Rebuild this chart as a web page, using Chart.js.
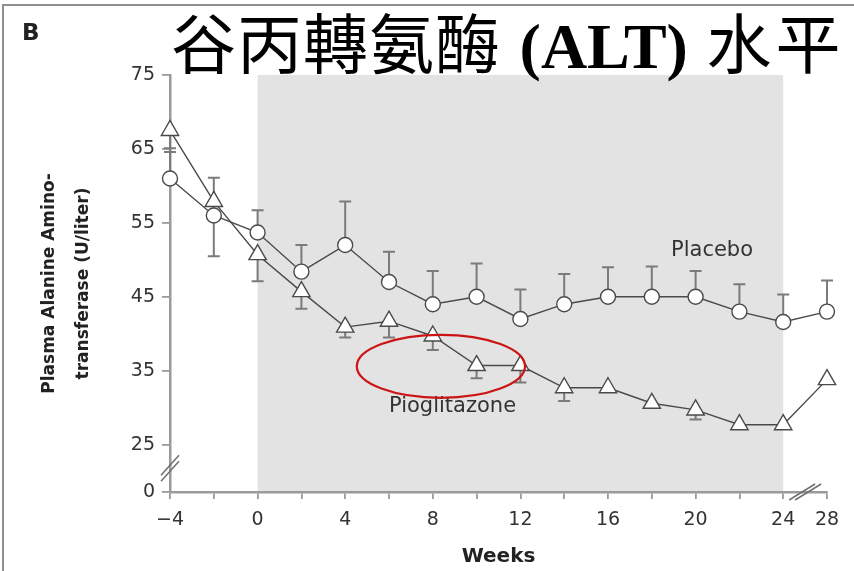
<!DOCTYPE html>
<html lang="zh-Hant">
<head>
<meta charset="utf-8">
<title>谷丙轉氨酶 (ALT) 水平</title>
<script src="https://cdn.jsdelivr.net/npm/chart.js@4.4.1/dist/chart.umd.min.js"></script>
<style>
  html, body { margin: 0; padding: 0; background: #fff; }
  #box { position: relative; width: 854px; height: 571px; overflow: hidden; }
  #box canvas { position: absolute; left: 0; top: 0; }
  .frame { position: absolute; left: 2px; top: 4px; width: 870px; height: 590px;
           border-left: 2px solid #8f8f8f; border-top: 2px solid #8f8f8f; }
  .panel { position: absolute; left: 22px; top: 19px; font: bold 23px "DejaVu Sans", sans-serif; color: #222; }
  .heading { position: absolute; left: 171px; top: 8px; margin: 0; white-space: nowrap; color: #000;
             font: 400 65px/64px "Noto Sans CJK TC", sans-serif; letter-spacing: 1px; word-spacing: 3px; }
  .heading b { font-family: "Liberation Serif", serif; font-weight: bold; font-size: 64px; letter-spacing: 0; }
  .heading .tail { letter-spacing: 4px; }
</style>
</head>
<body>
<div id="box">
  <canvas id="alt" width="854" height="571"></canvas>
  <div class="frame"></div>
  <div class="panel">B</div>
  <h1 class="heading">谷丙轉氨酶 <b>(ALT)</b> <span class="tail">水平</span></h1>
</div>
<script>
// study weeks; week 28 follows an axis break after week 24
const weeks = [-4, -2, 0, 2, 4, 6, 8, 10, 12, 14, 16, 18, 20, 22, 24, 28];

// mean plasma ALT (U/liter) with the visible end of each error bar
const placebo      = [61, 56, 53.7, 48.4, 52, 47, 44, 45, 42, 44, 45, 45, 45, 43, 41.6, 43];
const placeboUpper = [65.1, 61.1, 56.7, 52, 57.9, 51.1, 48.5, 49.5, 46, 48.1, 49, 49.1, 48.5, 46.7, 45.3, 47.2];
const placeboLower = [null, 50.5, null, null, null, null, null, null, null, null, null, null, null, null, null, null];

const pioglitazone      = [67.5, 57.9, 50.7, 45.7, 40.9, 41.7, 39.7, 35.7, 35.7, 32.7, 32.7, 30.6, 29.7, 27.7, 27.7, 33.8];
const pioglitazoneLower = [64.6, null, 47.1, 43.4, 39.5, 39.5, 37.8, 34, 33.4, 30.9, null, 30, 28.4, null, null, null];

// axis labels
const yTicks = [25, 35, 45, 55, 65, 75];
const yZeroLabel = '0';
const xLabelWeeks = [-4, 0, 4, 8, 12, 16, 20, 24, 28];

const family = '"DejaVu Sans", sans-serif';
const ink = '#4a4a4a';
const barInk = '#7b7b7b';
const axisInk = '#9a9a9a';

// fractional category position for any week
function weekPx(x, w) {
  for (let i = 0; i < weeks.length - 1; i++) {
    if (w <= weeks[i + 1]) {
      return x.getPixelForValue(i + (w - weeks[i]) / (weeks[i + 1] - weeks[i]));
    }
  }
  return x.getPixelForValue(weeks.length - 1);
}

const notes = [
  { text: 'Placebo', week: 20.75, level: 51.3 },
  { text: 'Pioglitazone', week: 8.9, level: 30.1 }
];
const ring = { week: 8.37, level: 35.6, halfWeeks: 3.84, halfLevels: 4.26 };

const extras = {
  id: 'extras',
  beforeDraw(chart) {
    const { ctx, chartArea, scales: { x } } = chart;
    // treatment period, week 0 to week 24
    const x0 = weekPx(x, 0), x1 = weekPx(x, 24);
    ctx.save();
    ctx.fillStyle = '#e3e3e3';
    ctx.fillRect(x0, chartArea.top, x1 - x0, chartArea.bottom - chartArea.top);
    ctx.restore();
  },
  beforeDatasetsDraw(chart) {
    const { ctx, scales: { x, y } } = chart;
    ctx.save();
    ctx.strokeStyle = barInk;
    ctx.lineWidth = 2;
    [[placebo, placeboUpper], [placebo, placeboLower], [pioglitazone, pioglitazoneLower]].forEach(([mid, end]) => {
      end.forEach((v, i) => {
        if (v === null) return;
        const px = x.getPixelForValue(i);
        const y0 = y.getPixelForValue(mid[i]);
        const y1 = y.getPixelForValue(v);
        ctx.beginPath();
        ctx.moveTo(px, y0);
        ctx.lineTo(px, y1);
        ctx.moveTo(px - 6, y1);
        ctx.lineTo(px + 6, y1);
        ctx.stroke();
      });
    });
    ctx.restore();
  },
  afterDatasetsDraw(chart) {
    const { ctx, chartArea, scales: { x, y } } = chart;
    ctx.save();

    // axis breaks
    ctx.strokeStyle = '#6f6f6f';
    ctx.lineWidth = 1.5;
    const by = (y.getPixelForValue(yTicks[0]) + chartArea.bottom) / 2;
    const bx = chartArea.left;
    [-3, 3].forEach(d => {
      ctx.beginPath();
      ctx.moveTo(bx - 9, by + d + 10);
      ctx.lineTo(bx + 9, by + d - 10);
      ctx.stroke();
    });
    const cx = x.getPixelForValue(weeks.length - 1.5);
    const cy = chartArea.bottom;
    [-3, 3].forEach(d => {
      ctx.beginPath();
      ctx.moveTo(cx + d - 13, cy + 8);
      ctx.lineTo(cx + d + 13, cy - 8);
      ctx.stroke();
    });

    // series names
    ctx.fillStyle = '#333';
    ctx.font = '21px ' + family;
    ctx.textAlign = 'center';
    ctx.textBaseline = 'middle';
    notes.forEach(n => ctx.fillText(n.text, weekPx(x, n.week), y.getPixelForValue(n.level)));

    // highlight ring around weeks 8-12
    const rx = weekPx(x, ring.week + ring.halfWeeks) - weekPx(x, ring.week);
    const ry = y.getPixelForValue(ring.level - ring.halfLevels) - y.getPixelForValue(ring.level);
    ctx.strokeStyle = '#cc1414';
    ctx.lineWidth = 2.2;
    ctx.beginPath();
    ctx.ellipse(weekPx(x, ring.week), y.getPixelForValue(ring.level), rx, ry, 0, 0, Math.PI * 2);
    ctx.stroke();

    ctx.restore();
  }
};

new Chart(document.getElementById('alt'), {
  type: 'line',
  data: {
    labels: weeks,
    datasets: [
      {
        label: 'Pioglitazone',
        data: pioglitazone,
        borderColor: ink,
        borderWidth: 1.4,
        pointStyle: 'triangle',
        pointRadius: 10,
        pointBackgroundColor: '#fff',
        pointBorderColor: ink,
        pointBorderWidth: 1.4,
        clip: false
      },
      {
        label: 'Placebo',
        data: placebo,
        borderColor: ink,
        borderWidth: 1.4,
        pointStyle: 'circle',
        pointRadius: 7.5,
        pointBackgroundColor: '#fff',
        pointBorderColor: ink,
        pointBorderWidth: 1.4,
        clip: false
      }
    ]
  },
  options: {
    responsive: false,
    animation: false,
    layout: { padding: { top: 75, right: 27, left: 0, bottom: 0 } },
    plugins: {
      legend: { display: false },
      tooltip: { enabled: false }
    },
    scales: {
      x: {
        type: 'category',
        offset: false,
        border: { color: axisInk, width: 2.5 },
        grid: { drawOnChartArea: false, tickLength: 7, color: axisInk, lineWidth: 1.8 },
        ticks: {
          autoSkip: false,
          maxRotation: 0,
          padding: 10,
          color: '#333',
          font: { family, size: 19 },
          callback: (v, i) => xLabelWeeks.includes(weeks[i]) ? String(weeks[i]).replace('-', '\u2212') : ''
        },
        title: {
          display: true,
          text: 'Weeks',
          color: '#222',
          font: { family, size: 20, weight: 'bold' },
          padding: { top: 0, bottom: 2 }
        },
        afterFit: s => { s.height = 79; }
      },
      y: {
        min: 18.6,
        max: 75,
        border: { color: axisInk, width: 2.5 },
        grid: { drawOnChartArea: false, tickLength: 8, color: axisInk, lineWidth: 1.8 },
        ticks: {
          padding: 7,
          color: '#333',
          font: { family, size: 19 },
          callback: v => v < yTicks[0] ? yZeroLabel : v
        },
        afterBuildTicks: s => { s.ticks = [s.min, ...yTicks].map(value => ({ value })); },
        title: {
          display: true,
          text: ['Plasma Alanine Amino-', 'transferase (U/liter)'],
          color: '#222',
          font: { family, size: 17, weight: 'bold', lineHeight: 2 },
          padding: { top: 33, bottom: 0 }
        },
        afterFit: s => { s.width = 170; }
      }
    }
  },
  plugins: [extras]
});
</script>
</body>
</html>
